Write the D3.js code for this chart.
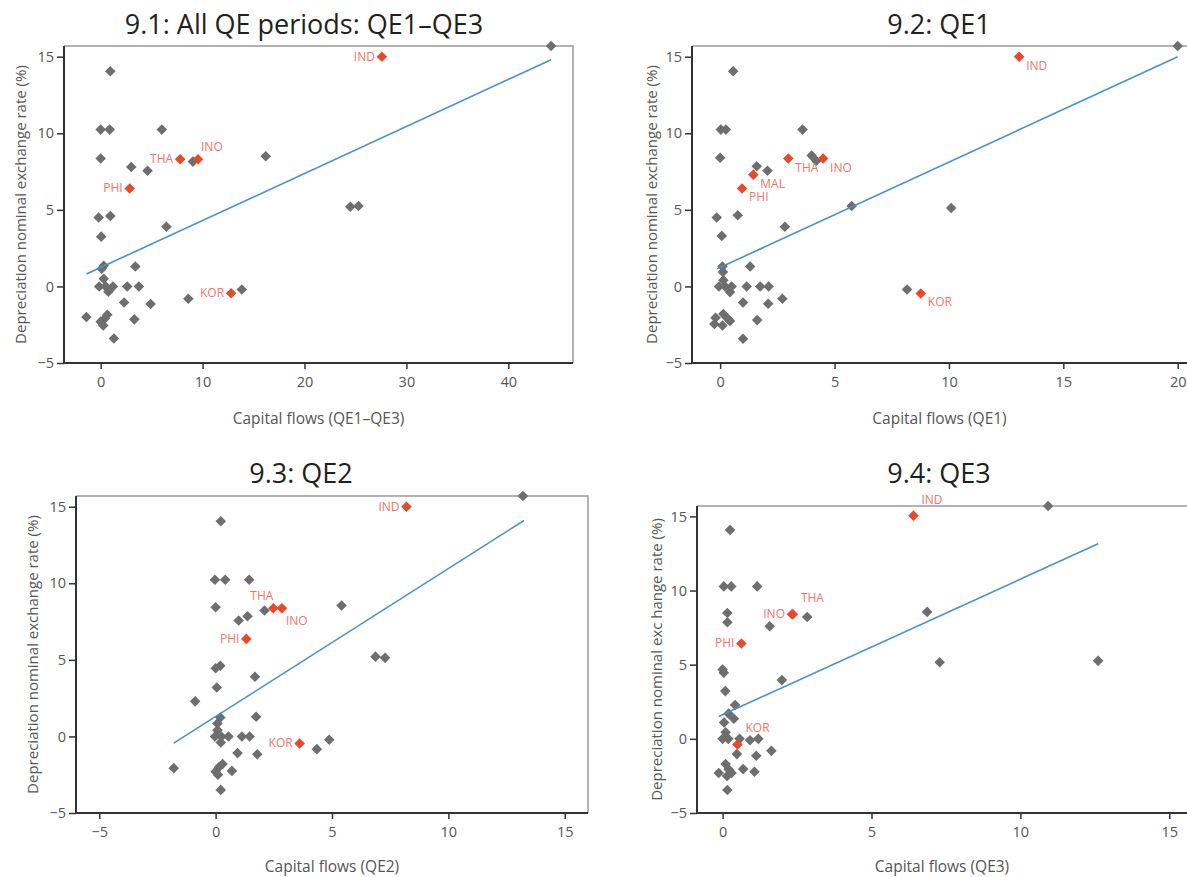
<!DOCTYPE html>
<html>
<head>
<meta charset="utf-8">
<title>Capital flows and depreciation during QE</title>
<script src="https://cdn.jsdelivr.net/npm/d3@7"></script>
<style>
    body { margin: 0; background: #fff; }
    svg { display: block; font-family: "Open Sans", sans-serif; }
</style>
</head>
<body>
<div id="container"></div>
<script>
// ---- Data ----
const yTicks = [-5, 0, 5, 10, 15]

// 9.1 all QE periods
const allTicks = [0, 10, 20, 30, 40]
const allGray = [[44.2,15.7],[0.94,14.05],[0,10.24],[0.88,10.24],[6.0,10.24],[0,8.35],[9.05,8.15],[16.2,8.5],[3.0,7.8],[4.6,7.55],
    [-0.2,4.5],[0.95,4.6],[0.05,3.25],[6.45,3.9],[24.5,5.2],[25.3,5.25],[0.3,1.35],[0.1,1.15],[3.4,1.3],[0.3,0.5],
    [-0.15,0],[0.5,0],[1.2,0],[0.75,-0.35],[2.6,0],[3.75,0],[2.3,-1.05],[4.9,-1.15],[8.6,-0.8],[13.85,-0.2],
    [-1.4,-2.0],[0,-2.3],[0.4,-2.1],[0.65,-1.85],[0.25,-2.55],[3.3,-2.15],[1.3,-3.4]]
const allRed = [{c:"IND",x:27.6,y:15.0},{c:"THA",x:7.8,y:8.3},{c:"INO",x:9.55,y:8.3},{c:"PHI",x:2.85,y:6.4},{c:"KOR",x:12.8,y:-0.45}]
const allFit = [[-1.4,0.81],[44.2,14.8]]

// 9.2 QE1
const qe1Ticks = [0, 5, 10, 15, 20]
const qe1Gray = [[20,15.7],[0.57,14.05],[0.03,10.24],[0.25,10.24],[3.6,10.24],[0,8.4],[4.0,8.55],[4.2,8.2],[1.6,7.85],[2.07,7.55],
    [5.75,5.25],[10.1,5.12],[-0.15,4.5],[0.77,4.65],[0.07,3.3],[2.83,3.9],[0.1,1.3],[0.12,0.95],[1.31,1.3],[-0.05,0],
    [0.22,0],[0.5,0],[0.14,0.4],[0.43,-0.37],[1.16,0],[1.75,0],[2.12,0],[1.0,-1.05],[2.1,-1.13],[2.72,-0.8],[8.17,-0.2],
    [-0.2,-2.05],[-0.25,-2.45],[0.14,-1.8],[0.33,-2.1],[0.1,-2.55],[0.43,-2.25],[1.62,-2.2],[1.0,-3.42]]
const qe1Red = [{c:"IND",x:13.07,y:15.0},{c:"THA",x:2.98,y:8.35},{c:"INO",x:4.5,y:8.35},{c:"MAL",x:1.45,y:7.3},{c:"PHI",x:0.96,y:6.4},{c:"KOR",x:8.77,y:-0.46}]
const qe1Fit = [[-0.13,1.15],[20,15.0]]

// 9.3 QE2
const qe2Ticks = [-5, 0, 5, 10, 15]
const qe2Gray = [[13.2,15.7],[0.22,14.05],[-0.03,10.23],[0.41,10.23],[1.44,10.23],[0,8.44],[5.41,8.55],[2.1,8.22],[0.99,7.57],[1.37,7.85],
    [6.87,5.21],[7.28,5.13],[0,4.45],[0.2,4.62],[1.69,3.9],[0.05,3.2],[-0.88,2.29],[1.74,1.29],[0.2,1.24],[0.08,0.85],
    [0.08,0.41],[-0.03,0],[0.25,0],[0.55,0],[0.22,-0.39],[1.13,0],[1.46,0],[4.88,-0.22],[4.35,-0.83],[0.94,-1.09],[1.79,-1.16],
    [-1.8,-2.07],[0,-2.3],[0.1,-2.5],[0.3,-1.8],[0.15,-2.0],[0.7,-2.25],[0.22,-3.49]]
const qe2Red = [{c:"IND",x:8.2,y:15.0},{c:"THA",x:2.48,y:8.37},{c:"INO",x:2.85,y:8.37},{c:"PHI",x:1.32,y:6.37},{c:"KOR",x:3.61,y:-0.46}]
const qe2Fit = [[-1.8,-0.44],[13.25,14.1]]

// 9.4 QE3
const qe3Ticks = [0, 5, 10, 15]
const qe3Gray = [[10.93,15.7],[0.25,14.09],[0.04,10.28],[0.29,10.28],[1.16,10.28],[0.16,8.49],[0.16,7.86],[6.87,8.56],[2.84,8.22],[1.58,7.59],
    [0,4.68],[0.04,4.46],[7.29,5.17],[12.61,5.26],[0.09,3.22],[1.99,3.96],[0.42,2.28],[0.2,1.7],[0.05,1.1],[0.38,1.35],
    [0,0],[0.19,0],[0.57,0],[0.92,-0.1],[1.2,0],[0.1,0.45],[0.48,-1.03],[1.13,-1.14],[1.64,-0.81],
    [-0.13,-2.3],[0.1,-1.7],[0.2,-2.05],[0.15,-2.5],[0.3,-2.3],[0.69,-2.04],[1.07,-2.22],[0.16,-3.45]]
const qe3Red = [{c:"IND",x:6.41,y:15.05},{c:"THA",x:2.36,y:8.4},{c:"INO",x:2.33,y:8.4},{c:"PHI",x:0.63,y:6.43},{c:"KOR",x:0.5,y:-0.38}]
const qe3Fit = [[-0.13,1.5],[12.61,13.15]]

// ---- Layout ----
const W = 1187, H = 877
const grayColor = "#6e6e6e"
const redColor = "#e8492a"
const labelColor = "#f0736b"
const lineColor = "#4593cc"
const yLab = "Depreciation nominal exchange rate (%)"

// label placement: [dx, dy, anchor]
const place = {
    l:  [-7, 4, "end"],
    br: [7, 13, "start"],
    bi: [4, 17, "start"],
    ar: [3, -8, "start"],
    up: [8, -12, "start"],
    al: [0, -8, "end"]
}

const panels = [
    {title: "9.1: All QE periods: QE1–QE3", xLab: "Capital flows (QE1–QE3)", yLab: yLab,
     gray: allGray, red: allRed, fit: allFit, ticks: allTicks,
     xDom: [-3.6, 46.35], left: 64, right: 573, top: 46, bottom: 363, titleX: 304, titleY: 34, xLabY: 424, yLabX: 21,
     pos: {IND: "l", THA: "l", INO: "ar", PHI: "l", KOR: "l"}},
    {title: "9.2: QE1", xLab: "Capital flows (QE1)", yLab: yLab,
     gray: qe1Gray, red: qe1Red, fit: qe1Fit, ticks: qe1Ticks,
     xDom: [-1.23, 20.45], left: 692, right: 1188, top: 46, bottom: 363, titleX: 939, titleY: 34, xLabY: 424, yLabX: 652,
     pos: {IND: "br", THA: "br", INO: "br", MAL: "br", PHI: "br", KOR: "br"}},
    {title: "9.3: QE2", xLab: "Capital flows (QE2)", yLab: yLab,
     gray: qe2Gray, red: qe2Red, fit: qe2Fit, ticks: qe2Ticks,
     xDom: [-6, 16], left: 76, right: 588, top: 496, bottom: 813, titleX: 301, titleY: 483, xLabY: 872, yLabX: 33,
     pos: {IND: "l", THA: "al", INO: "bi", PHI: "l", KOR: "l"}},
    {title: "9.4: QE3", xLab: "Capital flows (QE3)", yLab: "Depreciation nominal exc hange rate (%)",
     gray: qe3Gray, red: qe3Red, fit: qe3Fit, ticks: qe3Ticks,
     xDom: [-0.86, 16.2], left: 697, right: 1205, top: 506, bottom: 813, titleX: 939, titleY: 483, xLabY: 872, yLabX: 657,
     pos: {IND: "up", THA: "up", INO: "l", PHI: "l", KOR: "up"}}
]

const svg = d3.select("#container")
    .append("svg")
    .attr("width", W)
    .attr("height", H)

const diamond = d3.symbol().type(d3.symbolSquare).size(56)

panels.forEach(p => {
    const x = d3.scaleLinear().domain(p.xDom).range([p.left, p.right])
    const y = d3.scaleLinear().domain([-5, 15.7]).range([p.bottom, p.top])
    const g = svg.append("g")
    const cx = (p.left + Math.min(p.right, W)) / 2

    // title
    g.append("text")
        .attr("x", p.titleX).attr("y", p.titleY)
        .attr("text-anchor", "middle")
        .attr("font-size", 27)
        .attr("fill", "#231f20")
        .text(p.title)

    // frame (top + right, light)
    g.append("path")
        .attr("d", `M${p.left},${p.top}H${p.right}V${p.bottom}`)
        .attr("fill", "none")
        .attr("stroke", "#9a9a9a")
        .attr("stroke-width", 1.5)

    // axes
    const xAxis = d3.axisBottom(x).tickValues(p.ticks).tickSize(6).tickPadding(8)
    const yAxis = d3.axisLeft(y).tickValues(yTicks).tickSize(7).tickPadding(3)

    const gx = g.append("g")
        .attr("transform", `translate(0,${p.bottom})`)
        .call(xAxis)
    const gy = g.append("g")
        .attr("transform", `translate(${p.left},0)`)
        .call(yAxis)

    ;[gx, gy].forEach(a => {
        a.select(".domain").attr("stroke", "#333").attr("stroke-width", 2)
        a.selectAll(".tick line").attr("stroke", "#333").attr("stroke-width", 1.5)
        a.selectAll(".tick text")
            .attr("fill", "#555")
            .attr("font-size", 14.5)
            .attr("font-family", "'Open Sans', sans-serif")
    })
    gx.select(".domain").attr("d", `M${p.left},0H${p.right}`)
    gy.select(".domain").attr("d", `M0,${p.top}V${p.bottom}`)

    // axis labels
    g.append("text")
        .attr("x", cx).attr("y", p.xLabY)
        .attr("text-anchor", "middle")
        .attr("font-size", 15.5)
        .attr("fill", "#555")
        .text(p.xLab)

    g.append("text")
        .attr("transform", `translate(${p.yLabX + 5},${(p.top + p.bottom) / 2}) rotate(-90)`)
        .attr("text-anchor", "middle")
        .attr("font-size", 15)
        .attr("fill", "#555")
        .text(p.yLab)

    // gray points
    g.selectAll(".gray")
        .data(p.gray)
        .enter()
        .append("path")
        .attr("class", "gray")
        .attr("d", diamond)
        .attr("transform", d => `translate(${x(d[0])},${y(d[1])}) rotate(45)`)
        .attr("fill", grayColor)

    // fitted line
    g.append("path")
        .datum(p.fit)
        .attr("d", d3.line().x(d => x(d[0])).y(d => y(d[1])))
        .attr("fill", "none")
        .attr("stroke", lineColor)
        .attr("stroke-width", 1.6)

    // highlighted countries
    g.selectAll(".red")
        .data(p.red)
        .enter()
        .append("path")
        .attr("class", "red")
        .attr("d", diamond)
        .attr("transform", d => `translate(${x(d.x)},${y(d.y)}) rotate(45)`)
        .attr("fill", redColor)

    g.selectAll(".lab")
        .data(p.red)
        .enter()
        .append("text")
        .attr("class", "lab")
        .attr("x", d => x(d.x) + place[p.pos[d.c]][0])
        .attr("y", d => y(d.y) + place[p.pos[d.c]][1])
        .attr("text-anchor", d => place[p.pos[d.c]][2])
        .attr("font-size", 12)
        .attr("fill", labelColor)
        .text(d => d.c)
})
</script>
</body>
</html>
